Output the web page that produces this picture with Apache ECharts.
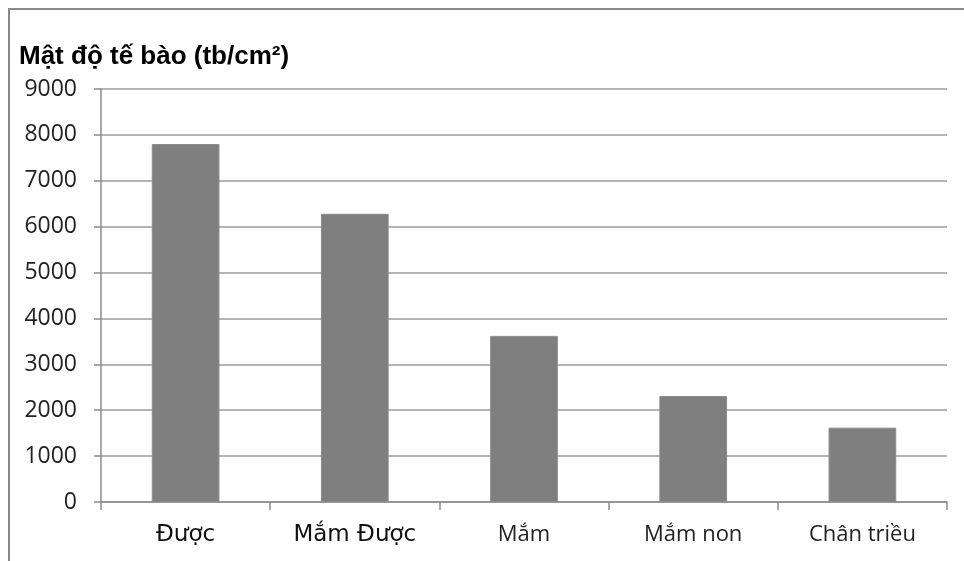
<!DOCTYPE html>
<html>
<head>
<meta charset="utf-8">
<script src="https://cdn.jsdelivr.net/npm/echarts@6/dist/echarts.min.js"></script>
<style>
  html, body { margin: 0; padding: 0; background: #fff; }
  #chart { width: 964px; height: 561px; }
</style>
</head>
<body>
<div id="chart"></div>
<script>
// Cell density by mangrove zone
const categories = ['Được', 'Mắm Được', 'Mắm', 'Mắm non', 'Chân triều'];
const density = [7800, 6280, 3620, 2310, 1620];
const yTicks = { min: 0, max: 9000, interval: 1000 };
const titleText = 'Mật độ tế bào (tb/cm²)';

// first two labels are set in a wide sans, the rest in a humanist sans
const wideLabels = ['Được', 'Mắm Được'];

const chart = echarts.init(document.getElementById('chart'), null, { renderer: 'canvas' });

chart.setOption({
  backgroundColor: '#ffffff',
  animation: false,
  title: {
    text: titleText,
    left: 14,
    top: 39,
    textStyle: {
      fontFamily: 'Liberation Sans',
      fontWeight: 'bold',
      fontSize: 26,
      color: '#000'
    }
  },
  graphic: [{
    type: 'rect',
    shape: { x: 9, y: 9, width: 1000, height: 600 },
    style: { fill: 'none', stroke: '#8a8a8a', lineWidth: 2 },
    silent: true
  }],
  grid: { left: 101, right: 17, top: 89, bottom: 59, containLabel: false },
  xAxis: {
    type: 'category',
    data: categories,
    boundaryGap: true,
    axisLine: { show: true, lineStyle: { color: '#8c8c8c', width: 1.5 } },
    axisTick: { show: true, length: 8, lineStyle: { color: '#8c8c8c', width: 1.5 } },
    axisLabel: {
      margin: 22,
      color: '#1a1a1a',
      formatter: function (v) {
        return wideLabels.indexOf(v) >= 0 ? '{w|' + v + '}' : '{n|' + v + '}';
      },
      rich: {
        w: { fontFamily: 'DejaVu Sans', fontSize: 23, color: '#111' },
        n: { fontFamily: 'Open Sans', fontSize: 22, color: '#222' }
      }
    }
  },
  yAxis: {
    type: 'value',
    min: yTicks.min,
    max: yTicks.max,
    interval: yTicks.interval,
    axisLine: { show: true, lineStyle: { color: '#8c8c8c', width: 1.5 } },
    axisTick: { show: true, length: 7, lineStyle: { color: '#8c8c8c', width: 1.5 } },
    splitLine: { show: true, lineStyle: { color: '#b4b4b4', width: 2 } },
    axisLabel: {
      margin: 24,
      fontFamily: 'Open Sans',
      fontSize: 23,
      color: '#222',
      formatter: function (v) { return String(v); }
    }
  },
  series: [{
    type: 'bar',
    data: density,
    barWidth: '40%',
    itemStyle: { color: '#7f7f7f', borderColor: '#8a8a8a', borderWidth: 1 }
  }]
});
</script>
</body>
</html>
